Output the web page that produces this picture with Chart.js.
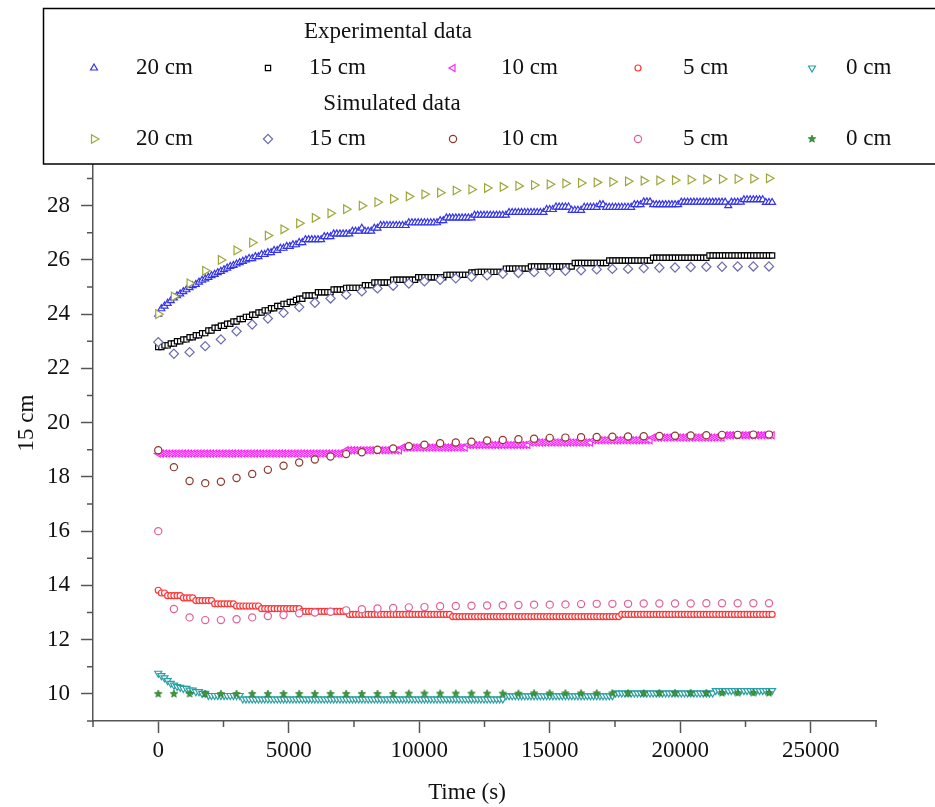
<!DOCTYPE html>
<html>
<head>
<meta charset="utf-8">
<title>Temperature profile</title>
<script src="https://cdn.jsdelivr.net/npm/chart.js@4.4.1/dist/chart.umd.min.js"></script>
<style>
  html, body { margin: 0; padding: 0; background: #fff; }
  #wrap { width: 935px; height: 807px; }
</style>
</head>
<body>
<div id="wrap"><canvas id="chart" width="935" height="807"></canvas></div>
<script>
/* ------------------------------------------------------------
   Data
------------------------------------------------------------ */
// simulated curves: one value every 600 s
const simTimes = [0, 600, 1200, 1800, 2400, 3000, 3600, 4200, 4800, 5400,
    6000, 6600, 7200, 7800, 8400, 9000, 9600, 10200, 10800, 11400,
    12000, 12600, 13200, 13800, 14400, 15000, 15600, 16200, 16800, 17400,
    18000, 18600, 19200, 19800, 20400, 21000, 21600, 22200, 22800, 23400];

const sim20 = [24.0, 24.65, 25.14, 25.6, 26.0, 26.35, 26.64, 26.9, 27.13, 27.35,
    27.55, 27.72, 27.87, 28.0, 28.13, 28.25, 28.34, 28.42, 28.48, 28.56,
    28.6, 28.65, 28.69, 28.73, 28.76, 28.79, 28.82, 28.84, 28.86, 28.88,
    28.9, 28.92, 28.93, 28.94, 28.96, 28.97, 28.98, 28.99, 29.0, 29.01];
const sim15 = [22.97, 22.54, 22.6, 22.82, 23.07, 23.37, 23.62, 23.84, 24.05, 24.26,
    24.42, 24.58, 24.72, 24.84, 24.95, 25.05, 25.13, 25.21, 25.27, 25.32,
    25.38, 25.43, 25.49, 25.52, 25.55, 25.57, 25.6, 25.62, 25.65, 25.67,
    25.67, 25.7, 25.71, 25.72, 25.74, 25.75, 25.75, 25.76, 25.76, 25.76];
const sim10 = [18.98, 18.36, 17.85, 17.77, 17.82, 17.96, 18.11, 18.26, 18.41, 18.53,
    18.64, 18.75, 18.84, 18.91, 19.0, 19.05, 19.13, 19.19, 19.24, 19.27,
    19.3, 19.34, 19.36, 19.39, 19.41, 19.44, 19.45, 19.46, 19.47, 19.48,
    19.49, 19.5, 19.51, 19.52, 19.53, 19.54, 19.55, 19.55, 19.56, 19.56];
const sim5 = [16.0, 13.13, 12.82, 12.72, 12.72, 12.75, 12.82, 12.87, 12.91, 12.97,
    13.0, 13.03, 13.08, 13.12, 13.15, 13.17, 13.19, 13.2, 13.23, 13.24,
    13.25, 13.26, 13.27, 13.28, 13.29, 13.29, 13.3, 13.31, 13.32, 13.32,
    13.32, 13.33, 13.33, 13.33, 13.33, 13.34, 13.34, 13.34, 13.34, 13.34];
const sim0 = [10.0, 10.0, 10.0, 10.0, 10.0, 10.0, 10.0, 10.0, 10.0, 10.0,
    10.0, 10.0, 10.0, 10.0, 10.0, 10.0, 10.01, 10.01, 10.01, 10.01,
    10.01, 10.01, 10.01, 10.01, 10.02, 10.02, 10.02, 10.02, 10.02, 10.02,
    10.02, 10.02, 10.03, 10.03, 10.03, 10.03, 10.03, 10.03, 10.03, 10.03];

// measured curves: logger sample every 120 s, stored as [value, number of samples]
const expStep = 120;
const exp20 = [[24.0, 1], [24.2, 1], [24.3, 1], [24.4, 1], [24.5, 1], [24.6, 1], [24.68, 1],
    [24.75, 1], [24.83, 1], [24.9, 1], [24.98, 1], [25.05, 1], [25.1, 1], [25.18, 1],
    [25.25, 1], [25.3, 1], [25.36, 1], [25.42, 1], [25.47, 1], [25.53, 1], [25.58, 1],
    [25.64, 1], [25.7, 1], [25.76, 1], [25.8, 1], [25.85, 1], [25.9, 1], [25.95, 1],
    [26.0, 1], [26.05, 2], [26.12, 2], [26.2, 2], [26.27, 2], [26.35, 2], [26.43, 2],
    [26.5, 2], [26.56, 2], [26.64, 2], [26.75, 6], [26.86, 3], [26.96, 6], [27.06, 3],
    [27.17, 1], [27.06, 3], [27.17, 2], [27.27, 9], [27.37, 10], [27.45, 2], [27.55, 9],
    [27.65, 11], [27.75, 12], [27.86, 3], [27.95, 5], [27.83, 4], [27.94, 5], [28.04, 2],
    [27.94, 9], [28.04, 3], [28.14, 3], [28.04, 9], [28.13, 15], [28.0, 1], [28.13, 4],
    [28.22, 7], [28.12, 3]];
const exp15 = [[22.79, 2], [22.85, 2], [22.92, 2], [23.0, 2], [23.07, 2], [23.15, 2],
    [23.22, 2], [23.3, 2], [23.4, 2], [23.5, 2], [23.57, 2], [23.65, 2], [23.73, 2],
    [23.82, 2], [23.9, 2], [23.98, 2], [24.06, 2], [24.14, 2], [24.22, 2], [24.3, 2],
    [24.38, 2], [24.45, 2], [24.52, 1], [24.57, 2], [24.69, 4], [24.81, 5], [24.91, 4],
    [24.97, 6], [25.07, 3], [25.17, 6], [25.27, 8], [25.36, 9], [25.45, 8], [25.54, 2],
    [25.56, 9], [25.68, 8], [25.76, 14], [25.89, 11], [25.98, 14], [26.08, 18], [26.16, 21]];
const exp10 = [[18.86, 60], [18.98, 18], [19.08, 21], [19.18, 20], [19.27, 20],
    [19.35, 19], [19.45, 23], [19.54, 16]];
const exp5 = [[13.82, 1], [13.72, 2], [13.62, 5], [13.54, 4], [13.44, 6], [13.32, 7],
    [13.24, 8], [13.14, 13], [13.04, 15], [12.93, 33], [12.85, 54], [12.93, 49]];
const exp0 = [[10.76, 1], [10.67, 1], [10.59, 1], [10.49, 1], [10.39, 1], [10.32, 1],
    [10.27, 1], [10.24, 1], [10.2, 2], [10.14, 2], [10.08, 2], [10.02, 2], [9.94, 11],
    [9.81, 84], [9.93, 35], [10.03, 32], [10.12, 19]];

// axes
const xTicks = [0, 5000, 10000, 15000, 20000, 25000];
const xMinorTicks = [-2500, 2500, 7500, 12500, 17500, 22500, 27500];
const yTicks = [10, 12, 14, 16, 18, 20, 22, 24, 26, 28];
const yMinorTicks = [9, 11, 13, 15, 17, 19, 21, 23, 25, 27, 29];
const seriesLabels = ["20 cm", "15 cm", "10 cm", "5 cm", "0 cm"];

/* ------------------------------------------------------------
   Helpers
------------------------------------------------------------ */
const FONT = "'Liberation Serif', 'Times New Roman', serif";
const AXIS = "#555";

function expandRuns(runs) {
    const pts = [];
    let n = 0;
    runs.forEach(([v, count]) => {
        for (let k = 0; k < count; k++) {
            pts.push({ x: n * expStep, y: v });
            n++;
        }
    });
    return pts;
}

function pair(times, values) {
    return values.map((v, i) => ({ x: times[i], y: v }));
}

// small filled star used for the simulated 0 cm curve
function makeStar(color, r) {
    const c = document.createElement("canvas");
    const s = Math.ceil(r * 2 + 2);
    c.width = s; c.height = s;
    const g = c.getContext("2d");
    g.translate(s / 2, s / 2);
    g.beginPath();
    for (let i = 0; i < 10; i++) {
        const rr = i % 2 === 0 ? r : r * 0.45;
        const a = -Math.PI / 2 + i * Math.PI / 5;
        g.lineTo(Math.cos(a) * rr, Math.sin(a) * rr);
    }
    g.closePath();
    g.fillStyle = color;
    g.fill();
    g.strokeStyle = "#1f6a1f";
    g.lineWidth = 0.6;
    g.stroke();
    return c;
}

const starIcon = makeStar("#3a9a3a", 4);

// marker style per series
const expStyles = [
    { color: "#3434ea", pointStyle: "triangle", rotation: 0, radius: 4 },
    { color: "#000000", pointStyle: "rect", rotation: 0, radius: 3.7 },
    { color: "#ff22ff", pointStyle: "triangle", rotation: -90, radius: 4 },
    { color: "#ff3535", pointStyle: "circle", rotation: 0, radius: 3 },
    { color: "#2b9fa3", pointStyle: "triangle", rotation: 180, radius: 4 }
];
const simStyles = [
    { color: "#9ea63a", pointStyle: "triangle", rotation: 90, radius: 5 },
    { color: "#6c6cb0", pointStyle: "rectRot", rotation: 0, radius: 4.6 },
    { color: "#8c3a2c", pointStyle: "circle", rotation: 0, radius: 3.6 },
    { color: "#e0609a", pointStyle: "circle", rotation: 0, radius: 3.6 },
    { color: "#2d8c2d", pointStyle: starIcon, rotation: 0, radius: 4 }
];

function makeDataset(label, data, st, order) {
    return {
        label: label,
        data: data,
        showLine: false,
        order: order,
        pointStyle: st.pointStyle,
        pointRotation: st.rotation,
        pointRadius: st.radius,
        pointBorderWidth: 1.2,
        pointBorderColor: st.color,
        pointBackgroundColor: "#ffffff"
    };
}

/* ------------------------------------------------------------
   Legend, minor ticks and axis titles
------------------------------------------------------------ */
const decorPlugin = {
    id: "decor",
    afterDraw(chart) {
        const ctx = chart.ctx;
        const xs = chart.scales.x, ys = chart.scales.y;
        const area = chart.chartArea;
        ctx.save();

        // minor ticks
        ctx.strokeStyle = AXIS;
        ctx.lineWidth = 1.5;
        ctx.beginPath();
        xMinorTicks.forEach(v => {
            const px = xs.getPixelForValue(v);
            ctx.moveTo(px, area.bottom);
            ctx.lineTo(px, area.bottom + 6);
        });
        yMinorTicks.forEach(v => {
            const py = ys.getPixelForValue(v);
            ctx.moveTo(area.left, py);
            ctx.lineTo(area.left - 6, py);
        });
        ctx.stroke();

        // axis titles
        ctx.fillStyle = "#111";
        ctx.font = "23px " + FONT;
        ctx.textAlign = "center";
        ctx.textBaseline = "middle";
        ctx.fillText("Time (s)", 467, 793);
        ctx.save();
        ctx.translate(27, 423);
        ctx.rotate(-Math.PI / 2);
        ctx.fillText("15 cm", 0, 0);
        ctx.restore();

        // legend box
        ctx.strokeStyle = "#000";
        ctx.lineWidth = 1.5;
        ctx.strokeRect(43.5, 8.5, 935, 155.5);

        ctx.fillText("Experimental data", 388, 32);
        ctx.fillText("Simulated data", 392, 104);

        const markX = [94, 268, 453, 638, 812];
        const textX = [136, 309, 501, 683, 846];
        const rows = [{ y: 68, styles: expStyles }, { y: 139, styles: simStyles }];
        ctx.textAlign = "left";
        rows.forEach(row => {
            row.styles.forEach((st, i) => {
                ctx.strokeStyle = st.color;
                ctx.fillStyle = "#ffffff";
                ctx.lineWidth = 1.2;
                Chart.helpers.drawPoint(ctx, {
                    pointStyle: st.pointStyle,
                    rotation: st.rotation,
                    radius: st.radius,
                    borderWidth: 1.2
                }, markX[i], row.y);
                ctx.fillStyle = "#111";
                ctx.fillText(seriesLabels[i], textX[i], row.y);
            });
        });
        ctx.restore();
    }
};

/* ------------------------------------------------------------
   Chart
------------------------------------------------------------ */
const datasets = [];
[sim20, sim15, sim10, sim5, sim0].forEach((vals, i) => {
    datasets.push(makeDataset("Simulated " + seriesLabels[i], pair(simTimes, vals), simStyles[i], 0));
});
[exp20, exp15, exp10, exp5, exp0].forEach((runs, i) => {
    datasets.push(makeDataset("Experimental " + seriesLabels[i], expandRuns(runs), expStyles[i], 1));
});

new Chart(document.getElementById("chart"), {
    type: "scatter",
    data: { datasets: datasets },
    plugins: [decorPlugin],
    options: {
        responsive: false,
        animation: false,
        layout: { padding: { top: 165, right: 59, left: 0, bottom: 0 } },
        plugins: {
            legend: { display: false },
            tooltip: { enabled: false }
        },
        scales: {
            x: {
                type: "linear",
                min: -2500,
                max: 27500,
                afterBuildTicks: scale => { scale.ticks = xTicks.map(v => ({ value: v })); },
                afterFit: scale => { scale.height = 86; },
                grid: {
                    drawOnChartArea: false,
                    tickLength: 12,
                    tickColor: AXIS,
                    tickWidth: 1.5
                },
                border: { display: true, color: AXIS, width: 1.5 },
                ticks: {
                    color: "#111",
                    padding: 4,
                    maxRotation: 0,
                    font: { family: FONT, size: 23 },
                    callback: v => String(v)
                }
            },
            y: {
                type: "linear",
                min: 9,
                max: 29.5,
                afterBuildTicks: scale => { scale.ticks = yTicks.map(v => ({ value: v })); },
                afterFit: scale => { scale.width = 93; },
                grid: {
                    drawOnChartArea: false,
                    tickLength: 12,
                    tickColor: AXIS,
                    tickWidth: 1.5
                },
                border: { display: true, color: AXIS, width: 1.5 },
                ticks: {
                    color: "#111",
                    padding: 11,
                    font: { family: FONT, size: 23 },
                    callback: v => String(v)
                }
            }
        }
    }
});
</script>
</body>
</html>
